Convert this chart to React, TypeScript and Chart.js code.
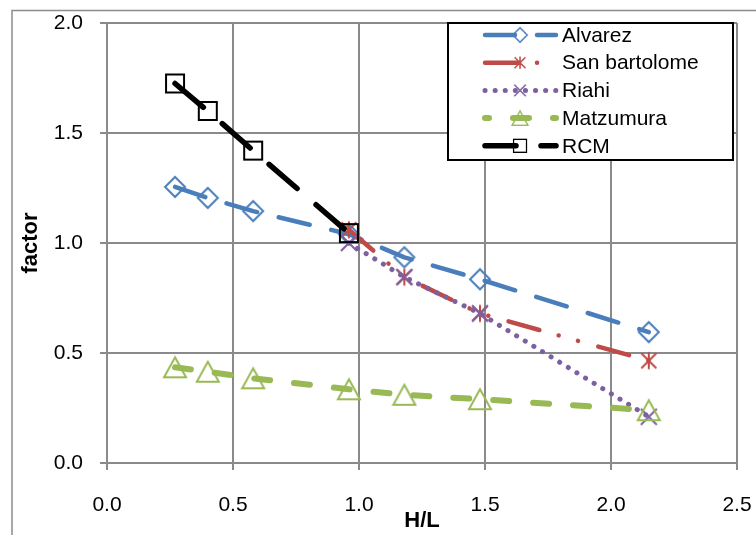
import React, { useEffect, useRef } from "react";
import { Chart, registerables } from "chart.js";

Chart.register(...registerables);

// ---- data ----
const hL = [0.27, 0.4, 0.58, 0.96, 1.18, 1.48, 2.15];
const alvarez = [1.255, 1.205, 1.145, 1.04, 0.935, 0.835, 0.595];
const sanHL = [0.96, 1.18, 1.48, 2.15];
const sanBartolome = [1.06, 0.845, 0.68, 0.465];
const riahiHL = [0.96, 1.18, 1.48, 2.15];
const riahi = [1.0, 0.845, 0.68, 0.21];
const matzumura = [0.435, 0.415, 0.385, 0.335, 0.31, 0.29, 0.24];
const rcmHL = [0.27, 0.4, 0.58, 0.96];
const rcm = [1.725, 1.6, 1.42, 1.045];
const seriesNames = ["Alvarez", "San bartolome", "Riahi", "Matzumura", "RCM"];
const xTicks = [0, 0.5, 1.0, 1.5, 2.0, 2.5];
const yTicks = [0, 0.5, 1.0, 1.5, 2.0];
const xTitle = "H/L";
const yTitle = "factor";

const FONT = "'Liberation Sans', Arial, sans-serif";

function pts(xs: number[], ys: number[]) {
  return xs.map((x, i) => ({ x, y: ys[i] }));
}

function marker(size: number, draw: (c: CanvasRenderingContext2D, s: number) => void) {
  const cv = document.createElement("canvas");
  cv.width = size;
  cv.height = size;
  const c = cv.getContext("2d")!;
  c.lineWidth = 2;
  c.lineJoin = "miter";
  draw(c, size);
  return cv;
}

export default function App() {
  const ref = useRef<HTMLCanvasElement | null>(null);

  useEffect(() => {
    const blue = "#4A7EBB";
    const red = "#BE4B48";
    const purple = "#7D60A0";
    const green = "#98B954";
    const black = "#000000";

    const diamond = marker(24, (c) => {
      c.strokeStyle = blue;
      c.beginPath();
      c.moveTo(12, 2);
      c.lineTo(22, 12);
      c.lineTo(12, 22);
      c.lineTo(2, 12);
      c.closePath();
      c.stroke();
    });
    const star = marker(22, (c) => {
      c.strokeStyle = red;
      c.beginPath();
      c.moveTo(3.5, 3.5);
      c.lineTo(18.5, 18.5);
      c.moveTo(18.5, 3.5);
      c.lineTo(3.5, 18.5);
      c.moveTo(11, 2.5);
      c.lineTo(11, 19.5);
      c.stroke();
    });
    const cross = marker(22, (c) => {
      c.strokeStyle = purple;
      c.beginPath();
      c.moveTo(3, 3);
      c.lineTo(19, 19);
      c.moveTo(19, 3);
      c.lineTo(3, 19);
      c.stroke();
    });
    const tri = marker(26, (c) => {
      c.strokeStyle = green;
      c.beginPath();
      c.moveTo(13, 3);
      c.lineTo(24, 23);
      c.lineTo(2, 23);
      c.closePath();
      c.stroke();
    });
    const square = marker(22, (c) => {
      c.strokeStyle = black;
      c.strokeRect(2, 2, 18, 18);
    });

    const borderPlugin = {
      id: "outerBorder",
      beforeDraw(chart: any) {
        const c = chart.ctx;
        c.save();
        c.fillStyle = "#ffffff";
        c.fillRect(0, 0, chart.width, chart.height);
        c.strokeStyle = "#8c8c8c";
        c.lineWidth = 1.5;
        c.beginPath();
        c.moveTo(12, chart.height + 5);
        c.lineTo(12, 10.5);
        c.lineTo(chart.width + 5, 10.5);
        c.stroke();
        c.restore();
      },
    };

    const legendPlugin = {
      id: "customLegend",
      afterDraw(chart: any) {
        const c = chart.ctx;
        const x0 = 448, y0 = 23, w = 285, h = 137;
        c.save();
        c.fillStyle = "#ffffff";
        c.fillRect(x0, y0, w, h);
        c.strokeStyle = "#000000";
        c.lineWidth = 2;
        c.strokeRect(x0, y0, w, h);
        const rowH = 27.7;
        chart.data.datasets.forEach((ds: any, i: number) => {
          const y = y0 + 12 + rowH * i;
          c.save();
          c.strokeStyle = ds.borderColor;
          c.lineWidth = ds.borderWidth;
          c.lineCap = ds.borderCapStyle || "round";
          c.setLineDash(ds.borderDash || []);
          c.lineDashOffset = ds.legendDashOffset || 0;
          c.beginPath();
          c.moveTo(485, y);
          c.lineTo(556, y);
          c.stroke();
          c.restore();
          const img = ds.pointStyle as HTMLCanvasElement;
          const s = 0.72;
          const iw = img.width * s, ih = img.height * s;
          c.drawImage(img, 520 - iw / 2, y - ih / 2, iw, ih);
          c.fillStyle = "#000000";
          c.font = `21px ${FONT}`;
          c.textAlign = "left";
          c.textBaseline = "middle";
          c.fillText(ds.label, 562, y + 1);
        });
        c.restore();
      },
    };

    const common = {
      fill: false,
      tension: 0,
      borderCapStyle: "round",
      borderJoinStyle: "round",
      pointRadius: 10,
      pointHoverRadius: 10,
    };

    const chart = new Chart(ref.current!, {
      type: "line",
      data: {
        datasets: [
          {
            ...common,
            label: seriesNames[0],
            data: pts(hL, alvarez),
            borderColor: blue,
            borderWidth: 4.5,
            borderDash: [32, 22],
            legendDashOffset: 2,
            pointStyle: diamond,
            order: 4,
          },
          {
            ...common,
            label: seriesNames[1],
            data: pts(sanHL, sanBartolome),
            borderColor: red,
            borderWidth: 4.5,
            borderDash: [32, 20, 0.1, 20, 0.1, 21],
            pointStyle: star,
            order: 3,
          },
          {
            ...common,
            label: seriesNames[2],
            data: pts(riahiHL, riahi),
            borderColor: purple,
            borderWidth: 5,
            borderDash: [0.1, 10],
            pointStyle: cross,
            order: 2,
          },
          {
            ...common,
            label: seriesNames[3],
            data: pts(hL, matzumura),
            borderColor: green,
            borderWidth: 6,
            borderDash: [16, 24],
            legendDashOffset: 12,
            pointStyle: tri,
            order: 1,
          },
          {
            ...common,
            label: seriesNames[4],
            data: pts(rcmHL, rcm),
            borderColor: black,
            borderWidth: 5.5,
            borderDash: [37, 25],
            legendDashOffset: 6,
            pointStyle: square,
            order: 0,
          },
        ] as any,
      },
      plugins: [borderPlugin, legendPlugin],
      options: {
        animation: false,
        responsive: false,
        layout: { padding: { left: 0, top: 23, right: 19, bottom: 0 } },
        plugins: {
          legend: { display: false },
          tooltip: { enabled: false },
        },
        scales: {
          x: {
            type: "linear",
            min: 0,
            max: 2.5,
            afterBuildTicks(scale: any) {
              scale.ticks = xTicks.map((v) => ({ value: v }));
            },
            afterFit(scale: any) {
              scale.height = 72;
              scale.paddingLeft = 0;
              scale.paddingRight = 0;
              scale.paddingTop = 0;
              scale.paddingBottom = 0;
            },
            ticks: {
              padding: 23,
              color: "#000000",
              font: { family: FONT, size: 21 },
              maxRotation: 0,
              callback: (v: any) => Number(v).toFixed(1),
            },
            grid: { color: "#8a8a8a", lineWidth: 2, tickLength: 7 },
            border: { color: "#8a8a8a", width: 2 },
            title: {
              display: true,
              text: xTitle,
              color: "#000000",
              font: { family: FONT, size: 22, weight: "bold" },
              padding: { top: 0, bottom: 1 },
            },
          },
          y: {
            type: "linear",
            min: 0,
            max: 2,
            afterBuildTicks(scale: any) {
              scale.ticks = yTicks.map((v) => ({ value: v }));
            },
            afterFit(scale: any) {
              scale.width = 107;
              scale.paddingLeft = 0;
              scale.paddingRight = 0;
              scale.paddingTop = 0;
              scale.paddingBottom = 0;
            },
            ticks: {
              padding: 17,
              color: "#000000",
              font: { family: FONT, size: 21 },
              callback: (v: any) => Number(v).toFixed(1),
            },
            grid: { color: "#8a8a8a", lineWidth: 2, tickLength: 7 },
            border: { color: "#8a8a8a", width: 2 },
            title: {
              display: true,
              text: yTitle,
              color: "#000000",
              font: { family: FONT, size: 22, weight: "bold" },
              padding: { top: 18, bottom: 0 },
            },
          },
        },
      } as any,
    });
    return () => chart.destroy();
  }, []);

  return (
    <div style={{ position: "fixed", left: 0, top: 0, width: 756, height: 535, background: "#fff" }}>
      <canvas ref={ref} width={756} height={535} style={{ display: "block" }} />
    </div>
  );
}
